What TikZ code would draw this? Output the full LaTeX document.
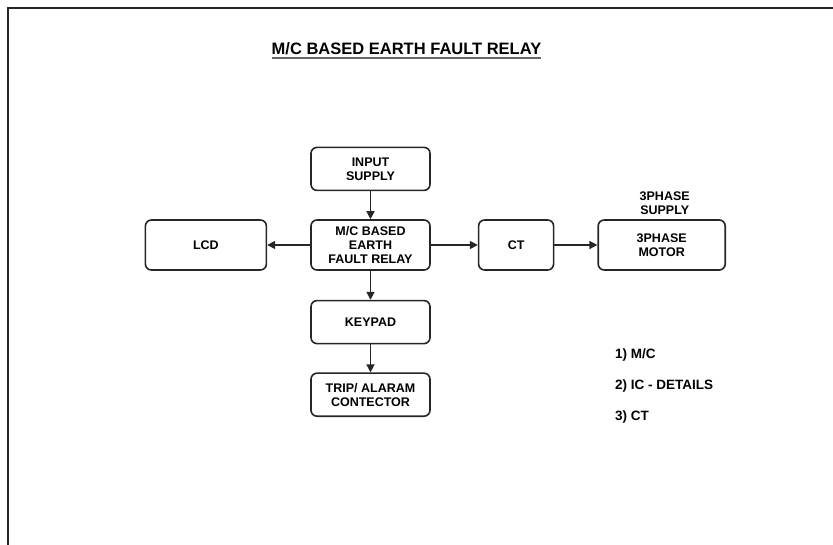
\documentclass[tikz,border=0pt]{standalone}
\usepackage{fontspec}
\setmainfont{Liberation Sans}
\usetikzlibrary{arrows.meta,positioning,calc}
\tikzset{
  blk/.style  ={rectangle, rounded corners=6pt, draw=black!85, line width=1.6pt,
                align=center, font=\fontsize{12.5}{14}\selectfont\bfseries,
                minimum height=43pt, minimum width=119pt, inner sep=2pt},
  blkT/.style ={blk, minimum height=50pt},            % tall boxes, middle row
  lbl/.style  ={align=center, inner sep=0pt, font=\fontsize{12.5}{14}\selectfont\bfseries},
  note/.style ={lbl, anchor=base west, font=\fontsize{13.5}{15}\selectfont\bfseries},
  ttl/.style  ={inner sep=0pt, font=\fontsize{16.5}{18}\selectfont\bfseries},
  flow/.style ={-{Triangle[length=8pt,width=8pt]}, line width=1.6pt, draw=black!85},
}

\begin{document}
\begin{tikzpicture}[x=1pt, y=-1pt, node distance=28pt and 44pt]
  \useasboundingbox (0,0) rectangle (833,545);
  \draw[line width=2pt, black!85] (8,545) -- (8,8) -- (833,8);

  \node[ttl] (title) at (406.5,49) {M/C BASED EARTH FAULT RELAY};
  \draw[line width=1.4pt, black!60] ($(title.base west)+(0,3)$) -- ($(title.base east)+(0,3)$);

  \node[blkT]                                    (mcu)    at (370.5,245) {M/C BASED\\EARTH\\FAULT RELAY};
  \node[blk, above=of mcu]                       (supply) {INPUT\\SUPPLY};
  \node[blk, below=29pt of mcu]                  (keypad) {KEYPAD};
  \node[blk, below=of keypad]                    (trip)   {TRIP/ ALARAM\\CONTECTOR};
  \node[blkT, minimum width=121pt, left=43pt of mcu]  (lcd)   {LCD};
  \node[blkT, minimum width=75pt, right=47pt of mcu]  (ct)    {CT};
  \node[blkT, minimum width=127pt, right=43pt of ct]  (motor) {3PHASE\\MOTOR};
  \node[lbl, above=4pt of motor, xshift=3pt]     (phase)  {3PHASE\\SUPPLY};

  \draw[flow] (supply) -- (mcu);
  \draw[flow] (mcu) -- (lcd);
  \draw[flow] (mcu) -- (ct);
  \draw[flow] (ct) -- (motor);
  \draw[flow] (mcu) -- (keypad);
  \draw[flow] (keypad) -- (trip);

  % notes
  \node[note] (n1) at (615,359) {1) M/C};
  \node[note] (n2) at (615,389) {2) IC - DETAILS};
  \node[note] (n3) at (615,420) {3) CT};
\end{tikzpicture}
\end{document}
